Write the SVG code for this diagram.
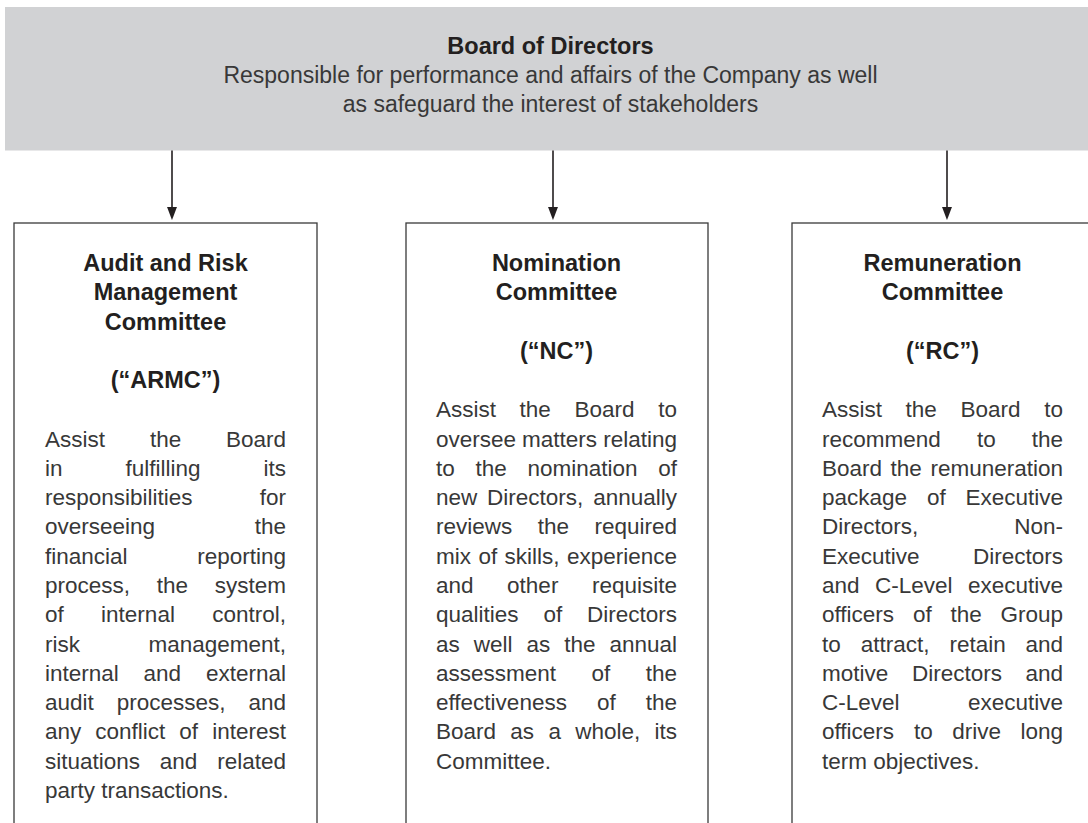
<svg xmlns="http://www.w3.org/2000/svg" width="1088" height="823" viewBox="0 0 1088 823">
  <defs>
    <marker id="arrowhead" markerWidth="13" markerHeight="17" refX="13" refY="6.5" orient="auto" markerUnits="userSpaceOnUse" viewBox="0 0 17 13">
      <path d="M0,0 L17,6.5 L0,13 Z" fill="#231f20"/>
    </marker>
    <style>
      .banner { fill: #d1d2d4; }
      .box { fill: #ffffff; stroke: #3a3a3a; stroke-width: 1.3; }
      .title { font-family: "Liberation Sans", Arial, sans-serif; font-weight: bold; font-size: 23.5px; fill: #231f20; text-anchor: middle; }
      .lead { font-family: "Liberation Sans", Arial, sans-serif; font-size: 23px; fill: #383838; text-anchor: middle; }
      .body { font-family: "Liberation Sans", Arial, sans-serif; font-size: 22.5px; fill: #383838; }
      .end { text-anchor: end; }
      .conn { stroke: #231f20; stroke-width: 1.6; fill: none; }
    </style>
  </defs>

  <!-- Board of Directors -->
  <g id="board">
    <rect class="banner" x="5" y="7" width="1090" height="143.5"/>
    <text class="title" x="550.5" y="53.5">Board of Directors</text>
    <text class="lead" x="550.5" y="82.5">Responsible for performance and affairs of the Company as well</text>
    <text class="lead" x="550.5" y="111.5">as safeguard the interest of stakeholders</text>
  </g>

  <!-- Connectors from the board to each committee -->
  <g id="connectors">
    <line class="conn" x1="172" y1="150.5" x2="172" y2="217" marker-end="url(#arrowhead)"/>
    <line class="conn" x1="553" y1="150.5" x2="553" y2="217" marker-end="url(#arrowhead)"/>
    <line class="conn" x1="947" y1="150.5" x2="947" y2="217" marker-end="url(#arrowhead)"/>
  </g>

  <!-- Audit and Risk Management Committee (justified body, words placed per line) -->
  <g id="armc">
    <rect class="box" x="14" y="223" width="303" height="620"/>
    <text class="title" x="165.5" y="271">Audit and Risk</text>
    <text class="title" x="165.5" y="300.3">Management</text>
    <text class="title" x="165.5" y="329.5">Committee</text>
    <text class="title" x="165.5" y="388.1">(“ARMC”)</text>
    <text class="body" y="446.6"><tspan x="45">Assist</tspan><tspan x="149.9">the</tspan><tspan class="end" x="286">Board</tspan></text>
    <text class="body" y="475.9"><tspan x="45">in</tspan><tspan x="125.5">fulfilling</tspan><tspan class="end" x="286">its</tspan></text>
    <text class="body" y="505.2"><tspan x="45">responsibilities</tspan><tspan class="end" x="286">for</tspan></text>
    <text class="body" y="534.4"><tspan x="45">overseeing</tspan><tspan class="end" x="286">the</tspan></text>
    <text class="body" y="563.7"><tspan x="45">financial</tspan><tspan class="end" x="286">reporting</tspan></text>
    <text class="body" y="593"><tspan x="45">process,</tspan><tspan x="156.7">the</tspan><tspan class="end" x="286">system</tspan></text>
    <text class="body" y="622.2"><tspan x="45">of</tspan><tspan x="101.1">internal</tspan><tspan class="end" x="286">control,</tspan></text>
    <text class="body" y="651.5"><tspan x="45">risk</tspan><tspan class="end" x="286">management,</tspan></text>
    <text class="body" y="680.8"><tspan x="45">internal</tspan><tspan x="143.6">and</tspan><tspan class="end" x="286">external</tspan></text>
    <text class="body" y="710"><tspan x="45">audit</tspan><tspan x="116.7">processes,</tspan><tspan class="end" x="286">and</tspan></text>
    <text class="body" y="739.3"><tspan x="45">any</tspan><tspan x="95.3">conflict</tspan><tspan x="179.3">of</tspan><tspan class="end" x="286">interest</tspan></text>
    <text class="body" y="768.6"><tspan x="45">situations</tspan><tspan x="159.8">and</tspan><tspan class="end" x="286">related</tspan></text>
    <text class="body" x="45" y="797.8">party transactions.</text>
  </g>

  <!-- Nomination Committee -->
  <g id="nc">
    <rect class="box" x="406" y="223" width="302" height="620"/>
    <text class="title" x="556.5" y="271">Nomination</text>
    <text class="title" x="556.5" y="300.3">Committee</text>
    <text class="title" x="556.5" y="358.8">(“NC”)</text>
    <text class="body" y="417.4"><tspan x="436">Assist</tspan><tspan x="519.6">the</tspan><tspan x="574.5">Board</tspan><tspan class="end" x="677">to</tspan></text>
    <text class="body" y="446.6"><tspan x="436">oversee</tspan><tspan x="522.1">matters</tspan><tspan class="end" x="677">relating</tspan></text>
    <text class="body" y="475.9"><tspan x="436">to</tspan><tspan x="475.5">the</tspan><tspan x="527.5">nomination</tspan><tspan class="end" x="677">of</tspan></text>
    <text class="body" y="505.2"><tspan x="436">new</tspan><tspan x="487.1">Directors,</tspan><tspan class="end" x="677">annually</tspan></text>
    <text class="body" y="534.4"><tspan x="436">reviews</tspan><tspan x="537.7">the</tspan><tspan class="end" x="677">required</tspan></text>
    <text class="body" y="563.7"><tspan x="436">mix</tspan><tspan x="478.4">of</tspan><tspan x="504.6">skills,</tspan><tspan class="end" x="677">experience</tspan></text>
    <text class="body" y="593"><tspan x="436">and</tspan><tspan x="507.1">other</tspan><tspan class="end" x="677">requisite</tspan></text>
    <text class="body" y="622.2"><tspan x="436">qualities</tspan><tspan x="543.4">of</tspan><tspan class="end" x="677">Directors</tspan></text>
    <text class="body" y="651.5"><tspan x="436">as</tspan><tspan x="473.8">well</tspan><tspan x="526.5">as</tspan><tspan x="564.3">the</tspan><tspan class="end" x="677">annual</tspan></text>
    <text class="body" y="680.8"><tspan x="436">assessment</tspan><tspan x="591.5">of</tspan><tspan class="end" x="677">the</tspan></text>
    <text class="body" y="710"><tspan x="436">effectiveness</tspan><tspan x="597.1">of</tspan><tspan class="end" x="677">the</tspan></text>
    <text class="body" y="739.3"><tspan x="436">Board</tspan><tspan x="510.3">as</tspan><tspan x="548.4">a</tspan><tspan x="575.2">whole,</tspan><tspan class="end" x="677">its</tspan></text>
    <text class="body" x="436" y="768.6">Committee.</text>
  </g>

  <!-- Remuneration Committee -->
  <g id="rc">
    <rect class="box" x="792" y="223" width="302" height="620"/>
    <text class="title" x="942.5" y="271">Remuneration</text>
    <text class="title" x="942.5" y="300.3">Committee</text>
    <text class="title" x="942.5" y="358.8">(“RC”)</text>
    <text class="body" y="417.4"><tspan x="822">Assist</tspan><tspan x="905.6">the</tspan><tspan x="960.5">Board</tspan><tspan class="end" x="1063">to</tspan></text>
    <text class="body" y="446.6"><tspan x="822">recommend</tspan><tspan x="976.9">to</tspan><tspan class="end" x="1063">the</tspan></text>
    <text class="body" y="475.9"><tspan x="822">Board</tspan><tspan x="890.6">the</tspan><tspan class="end" x="1063">remuneration</tspan></text>
    <text class="body" y="505.2"><tspan x="822">package</tspan><tspan x="926.9">of</tspan><tspan class="end" x="1063">Executive</tspan></text>
    <text class="body" y="534.4"><tspan x="822">Directors,</tspan><tspan class="end" x="1063">Non-</tspan></text>
    <text class="body" y="563.7"><tspan x="822">Executive</tspan><tspan class="end" x="1063">Directors</tspan></text>
    <text class="body" y="593"><tspan x="822">and</tspan><tspan x="875">C-Level</tspan><tspan class="end" x="1063">executive</tspan></text>
    <text class="body" y="622.2"><tspan x="822">officers</tspan><tspan x="913.1">of</tspan><tspan x="950.5">the</tspan><tspan class="end" x="1063">Group</tspan></text>
    <text class="body" y="651.5"><tspan x="822">to</tspan><tspan x="860.7">attract,</tspan><tspan x="949.4">retain</tspan><tspan class="end" x="1063">and</tspan></text>
    <text class="body" y="680.8"><tspan x="822">motive</tspan><tspan x="911.9">Directors</tspan><tspan class="end" x="1063">and</tspan></text>
    <text class="body" y="710"><tspan x="822">C-Level</tspan><tspan class="end" x="1063">executive</tspan></text>
    <text class="body" y="739.3"><tspan x="822">officers</tspan><tspan x="914">to</tspan><tspan x="952.3">drive</tspan><tspan class="end" x="1063">long</tspan></text>
    <text class="body" x="822" y="768.6">term objectives.</text>
  </g>
</svg>
